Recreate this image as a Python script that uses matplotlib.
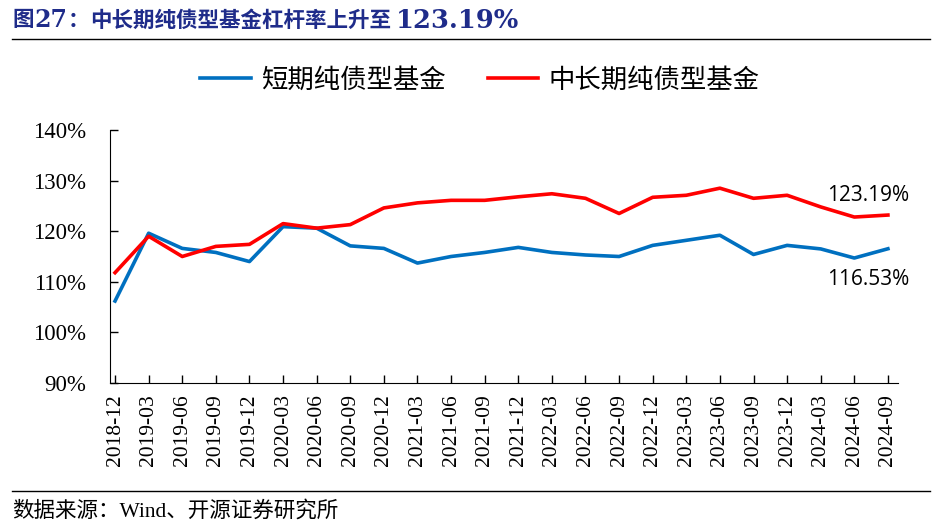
import numpy as np
import matplotlib
matplotlib.use('Agg')
import matplotlib.pyplot as plt
from matplotlib.ticker import FuncFormatter

# data (%)
dates = ['2018-12', '2019-03', '2019-06', '2019-09', '2019-12',
         '2020-03', '2020-06', '2020-09', '2020-12',
         '2021-03', '2021-06', '2021-09', '2021-12',
         '2022-03', '2022-06', '2022-09', '2022-12',
         '2023-03', '2023-06', '2023-09', '2023-12',
         '2024-03', '2024-06', '2024-09']
short_term = [106.2, 119.6, 116.6, 115.8, 114.0,
              120.9, 120.6, 117.1, 116.6,
              113.7, 115.0, 115.8, 116.8,
              115.8, 115.3, 115.0, 117.2,
              118.2, 119.2, 115.4, 117.2,
              116.5, 114.7, 116.53]
mid_long = [111.8, 119.0, 115.0, 117.0, 117.4,
            121.5, 120.6, 121.3, 124.6,
            125.6, 126.1, 126.1, 126.8,
            127.4, 126.5, 123.5, 126.7,
            127.1, 128.5, 126.5, 127.1,
            124.8, 122.8, 123.19]
labels = ['短期纯债型基金', '中长期纯债型基金']

serif = ['Liberation Serif', 'Noto Sans CJK SC']
cjk = ['Noto Sans CJK SC', 'DejaVu Sans']
navy = '#1F2C8A'

fig = plt.figure(figsize=(9.42, 5.32), dpi=100)
ax = fig.add_axes([110/942, 1-383/532, (898-110)/942, (383-130)/532])

x = np.arange(len(dates))
ax.plot(x, short_term, color='#0070C0', lw=2.6, label=labels[0])
ax.plot(x, mid_long, color='#FF0000', lw=2.6, label=labels[1])

ax.set_ylim(90, 140)
ax.set_yticks(np.arange(90, 141, 10))
ax.yaxis.set_major_formatter(FuncFormatter(lambda v, p: '%d%%' % v))
ax.set_xlim(-0.15, len(dates) - 1 + 0.3)
ax.set_xticks(x)
ax.set_xticklabels(dates, rotation=90)
for t in ax.get_xticklabels():
    t.set_family('Liberation Serif')
    t.set_fontsize(15.5)
for t in ax.get_yticklabels():
    t.set_family('Liberation Serif')
    t.set_fontsize(16.5)
ax.tick_params(direction='in', length=6, width=1)
ax.tick_params(axis='y', pad=17)
ax.tick_params(axis='x', pad=8)
ax.spines['top'].set_visible(False)
ax.spines['right'].set_visible(False)

# end-value labels
ax.text(len(dates) - 1.6, mid_long[-1] + 3.8, '%.2f%%' % mid_long[-1],
        fontsize=15, family='Open Sans', ha='center', va='center')
ax.text(len(dates) - 1.6, short_term[-1] - 6.0, '%.2f%%' % short_term[-1],
        fontsize=15, family='Open Sans', ha='center', va='center')

leg = fig.legend(loc='center', bbox_to_anchor=(0.5 + 9/942, 1-80/532), ncol=2,
                 frameon=False, prop={'family': cjk, 'size': 19},
                 handlelength=1.9, columnspacing=1.6, handletextpad=0.4)

# title, rules and source
ty = 1 - 20/532
fig.text(12/942, ty, '图', family=cjk, fontsize=15.5, fontweight='bold',
         color=navy, ha='left', va='center')
fig.text(34/942, ty, '27', family='DejaVu Serif', fontsize=17, fontweight='bold',
         color=navy, ha='left', va='center')
fig.text(68/942, ty, '：', family=cjk, fontsize=15.5, fontweight='bold',
         color=navy, ha='left', va='center')
fig.text(90/942, ty, '中长期纯债型基金杠杆率上升至', family=cjk, fontsize=15.5,
         fontweight='bold', color=navy, ha='left', va='center')
fig.text(396/942, ty, '%.2f%%' % mid_long[-1],
         family='DejaVu Serif', fontsize=18.5, fontweight='bold', color=navy,
         ha='left', va='center')
fig.add_artist(plt.Line2D([12/942, 930/942], [1-39/532, 1-39/532],
                          color='black', lw=1))
fig.add_artist(plt.Line2D([12/942, 930/942], [1-491/532, 1-491/532],
                          color='black', lw=1))
fig.text(12/942, 1-511/532, '数据来源：Wind、开源证券研究所',
         family=serif, fontsize=15.5, ha='left', va='center')

fig.savefig('out.png', dpi=100)
